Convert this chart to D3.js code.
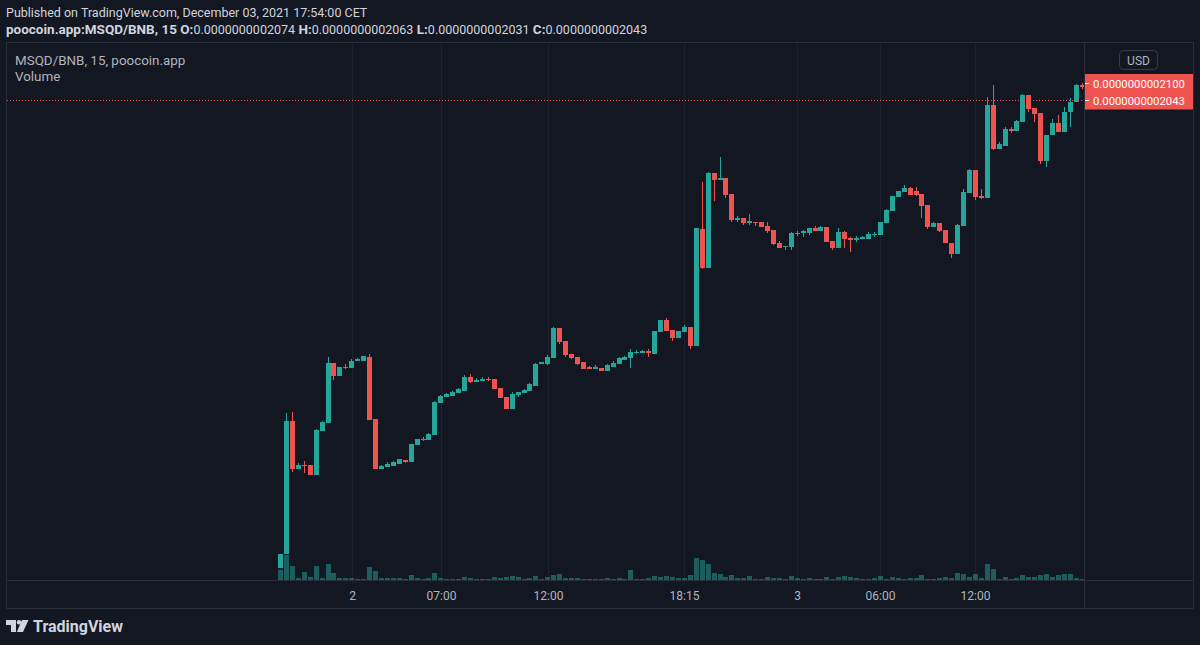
<!DOCTYPE html>
<html lang="en">
<head>
  <meta charset="UTF-8">
  <title>MSQD/BNB 15m candles</title>
  <script src="https://d3js.org/d3.v7.min.js"></script>
  <style>
    html, body { margin: 0; padding: 0; background: #131722; }
    svg { display: block; font-family: Roboto, "Noto Sans", sans-serif; }
    .hdr { fill: #d1d4dc; font-size: 12.5px; }
    .hdr .b { font-weight: bold; font-size: 13.5px; }
    .legend { fill: #b2b5be; font-size: 13.4px; }
    .tick-label { fill: #b2b5be; font-size: 12px; text-anchor: middle; }
    .frame { stroke: #2a2e39; fill: none; shape-rendering: crispEdges; }
    .grid { stroke: #1e222d; shape-rendering: crispEdges; }
  </style>
</head>
<body>
<div id="chart"></div>
<script>
  // 15 minute candles, prices in units of 1e-13 BNB
  const opens = [
    528, 574, 1004, 848, 862, 862, 828, 973, 999, 1193,
    1150, 1177, 1177, 1198, 1200, 1213, 1011, 848, 855, 860,
    865, 879, 872, 927, 943, 943, 959, 1062, 1081, 1085,
    1094, 1100, 1147, 1130, 1134, 1140, 1139, 1111, 1081, 1043,
    1088, 1094, 1100, 1119, 1188, 1189, 1209, 1306, 1263, 1222,
    1213, 1194, 1178, 1174, 1177, 1167, 1180, 1190, 1203, 1209,
    1225, 1226, 1230, 1222, 1293, 1331, 1299, 1273, 1293, 1309,
    1248, 1626, 1501, 1807, 1784, 1790, 1740, 1655, 1662, 1647,
    1650, 1649, 1636, 1623, 1581, 1567, 1569, 1614, 1612, 1614,
    1630, 1620, 1633, 1587, 1566, 1616, 1598, 1592, 1595, 1595,
    1607, 1607, 1646, 1685, 1731, 1746, 1760, 1749, 1740, 1704,
    1634, 1646, 1623, 1582, 1544, 1637, 1742, 1817, 1734, 1727,
    2028, 1886, 1896, 1950, 1944, 1974, 2060, 2018, 2002, 1846,
    1930, 1970, 1941, 2004, 2038, 2092
  ];
  const highs = [
    574, 1031, 1034, 867, 876, 862, 977, 1004, 1213, 1193,
    1180, 1189, 1204, 1207, 1216, 1221, 1011, 863, 871, 876,
    882, 879, 931, 946, 952, 966, 1069, 1089, 1094, 1102,
    1110, 1153, 1156, 1143, 1146, 1146, 1139, 1111, 1081, 1098,
    1098, 1108, 1128, 1193, 1194, 1218, 1310, 1306, 1263, 1222,
    1213, 1194, 1181, 1185, 1177, 1190, 1198, 1212, 1216, 1238,
    1233, 1235, 1237, 1296, 1331, 1338, 1299, 1296, 1315, 1309,
    1630, 1778, 1812, 1807, 1858, 1790, 1740, 1668, 1662, 1675,
    1650, 1649, 1649, 1623, 1588, 1571, 1616, 1619, 1623, 1629,
    1636, 1636, 1633, 1587, 1628, 1620, 1601, 1604, 1605, 1615,
    1616, 1649, 1691, 1733, 1750, 1769, 1763, 1762, 1740, 1704,
    1649, 1646, 1623, 1582, 1643, 1756, 1820, 1817, 1756, 2053,
    2092, 1909, 1955, 1955, 1980, 2064, 2060, 2018, 2002, 1931,
    1981, 1994, 2020, 2049, 2096, 2098
  ];
  const lows = [
    528, 574, 840, 848, 837, 828, 828, 973, 999, 1137,
    1150, 1172, 1177, 1198, 1200, 1008, 848, 848, 855, 860,
    865, 868, 872, 927, 940, 943, 959, 1062, 1081, 1085,
    1094, 1100, 1126, 1130, 1134, 1134, 1107, 1078, 1043, 1043,
    1081, 1094, 1100, 1119, 1188, 1186, 1209, 1254, 1213, 1205,
    1186, 1174, 1172, 1174, 1167, 1167, 1180, 1190, 1203, 1177,
    1221, 1226, 1213, 1222, 1293, 1296, 1263, 1273, 1293, 1239,
    1248, 1496, 1501, 1717, 1784, 1728, 1649, 1650, 1640, 1640,
    1637, 1634, 1612, 1573, 1566, 1558, 1558, 1605, 1601, 1608,
    1620, 1620, 1584, 1558, 1566, 1566, 1553, 1583, 1595, 1595,
    1601, 1607, 1646, 1685, 1731, 1746, 1737, 1733, 1663, 1626,
    1634, 1616, 1580, 1533, 1544, 1637, 1742, 1721, 1723, 1727,
    1882, 1886, 1896, 1937, 1944, 1974, 2005, 1974, 1838, 1827,
    1930, 1941, 1941, 1958, 2038, 2079
  ];
  const closes = [
    574, 1004, 848, 862, 859, 828, 975, 1001, 1193, 1150,
    1180, 1180, 1200, 1204, 1214, 1008, 848, 860, 865, 871,
    880, 873, 931, 946, 946, 962, 1066, 1085, 1091, 1099,
    1107, 1147, 1130, 1137, 1141, 1136, 1107, 1078, 1043, 1092,
    1098, 1105, 1123, 1190, 1194, 1213, 1306, 1260, 1218, 1209,
    1190, 1174, 1174, 1179, 1167, 1185, 1193, 1207, 1213, 1229,
    1229, 1230, 1224, 1296, 1331, 1296, 1273, 1296, 1309, 1248,
    1628, 1501, 1808, 1785, 1790, 1736, 1655, 1663, 1647, 1651,
    1647, 1634, 1621, 1579, 1566, 1571, 1613, 1610, 1619, 1629,
    1620, 1633, 1584, 1566, 1616, 1594, 1592, 1598, 1599, 1609,
    1611, 1649, 1688, 1733, 1748, 1760, 1737, 1735, 1702, 1634,
    1646, 1621, 1580, 1544, 1640, 1746, 1817, 1731, 1727, 2028,
    1885, 1900, 1950, 1943, 1977, 2060, 2016, 2000, 1846, 1931,
    1970, 1941, 2004, 2038, 2092, 2087
  ];
  const volumes = [
    10.5, 25, 13.7, 2, 7.7, 3, 13.7, 2, 15.7, 7,
    2, 2, 2, 1, 1, 12.7, 8.7, 2, 2, 2,
    2, 1, 5, 2, 1, 2, 7, 2, 1, 1,
    1, 3, 2, 1, 1, 1, 3, 2, 3, 4,
    3, 1, 2, 4, 1, 3, 5, 6, 2, 2,
    2, 1, 1, 1, 1, 2, 1, 2, 1, 10,
    1, 1, 2, 4, 3, 4, 3, 2, 2, 5,
    21.7, 19.7, 15.7, 7, 6, 3, 5, 2, 2, 4,
    1, 1, 3, 2, 2, 1, 4, 2, 1, 2,
    1, 1, 3, 1, 3, 4, 3, 2, 1, 1,
    2, 4, 1, 3, 2, 1, 2, 2, 5, 1,
    1, 2, 3, 2, 7, 6, 3, 6, 2, 15.7,
    10.7, 1, 3, 1, 2, 5, 3, 3, 5, 6,
    3, 5, 6, 6, 2, 1
  ];

  // time axis: bar index of each label
  const tickIndex = [12, 27, 45, 68, 87, 101, 117];
  const tickText = ["2", "07:00", "12:00", "18:15", "3", "06:00", "12:00"];

  // price axis labels
  const priceLabels = [2100, 2043];
  const lastPrice = 2043;

  const publishedText = "Published on TradingView.com, December 03, 2021 17:54:00 CET";
  const symbolText = "poocoin.app:MSQD/BNB, 15";
  const ohlcNames = ["O", "H", "L", "C"];
  const ohlcValues = ["0.0000000002074", "0.0000000002063", "0.0000000002031", "0.0000000002043"];
  const legendLines = ["MSQD/BNB, 15, poocoin.app", "Volume"];

  const W = 1200, H = 645;
  const pane = { left: 7, top: 43, right: 1084, bottom: 580 };
  const frame = { left: 6.5, top: 42.5, right: 1193.5, bottom: 608.5 };
  const upColor = "#26a69a", downColor = "#ef5350";
  const fmt = v => "0.000000000" + d3.format("04d")(v);

  const svg = d3.select("#chart").append("svg")
      .attr("width", W).attr("height", H);

  svg.append("rect").attr("width", W).attr("height", H).attr("fill", "#131722");

  // header
  svg.append("text").attr("class", "hdr").attr("x", 6).attr("y", 16.5).text(publishedText);
  const line2 = svg.append("text").attr("class", "hdr").attr("x", 6).attr("y", 33.5);
  line2.append("tspan").attr("class", "b").text(symbolText);
  ohlcNames.forEach((n, i) => {
    line2.append("tspan").attr("class", "b").text(" " + n + ":");
    line2.append("tspan").text(ohlcValues[i]);
  });

  // scales
  const n = opens.length;
  const x = d3.scaleLinear().domain([0, n - 1]).range([280.5, 1082.3]);
  const y = d3.scaleLinear().domain([2043, 2100]).range([100.3, 82.7]);
  const yVol = d3.scaleLinear().domain([0, 25]).range([pane.bottom, pane.bottom - 25]);

  const bars = d3.range(n).map(i => ({
    i, o: opens[i], h: highs[i], l: lows[i], c: closes[i], v: volumes[i],
    up: closes[i] >= opens[i]
  }));

  // grid + ticks
  const grid = svg.append("g");
  tickIndex.forEach((ti, k) => {
    const gx = Math.round(x(ti)) + 0.5;
    grid.append("line").attr("class", "grid")
      .attr("x1", gx).attr("x2", gx).attr("y1", pane.top).attr("y2", pane.bottom + 4);
    svg.append("text").attr("class", "tick-label")
      .attr("x", gx).attr("y", 599.5).text(tickText[k]);
  });

  svg.append("clipPath").attr("id", "clip").append("rect")
    .attr("x", pane.left).attr("y", pane.top)
    .attr("width", pane.right - pane.left).attr("height", pane.bottom - pane.top);

  const plot = svg.append("g").attr("clip-path", "url(#clip)");

  // volume
  plot.selectAll(".vol").data(bars).enter().append("rect")
    .attr("class", "vol")
    .attr("x", d => Math.round(x(d.i) - 2.5))
    .attr("width", 5)
    .attr("y", d => Math.round(yVol(d.v)))
    .attr("height", d => pane.bottom - Math.round(yVol(d.v)))
    .attr("fill", "rgba(38,166,154,0.5)");

  // wicks
  plot.selectAll(".wick").data(bars).enter().append("rect")
    .attr("class", "wick")
    .attr("x", d => Math.round(x(d.i) - 2.5) + 2)
    .attr("width", 1)
    .attr("y", d => Math.round(y(d.h)))
    .attr("height", d => Math.max(1, Math.round(y(d.l)) - Math.round(y(d.h))))
    .attr("fill", d => d.up ? upColor : downColor);

  // bodies
  plot.selectAll(".body").data(bars).enter().append("rect")
    .attr("class", "body")
    .attr("x", d => Math.round(x(d.i) - 2.5))
    .attr("width", 5)
    .attr("y", d => Math.round(y(Math.max(d.o, d.c))))
    .attr("height", d => Math.max(1, Math.round(y(Math.min(d.o, d.c))) - Math.round(y(Math.max(d.o, d.c)))))
    .attr("fill", d => d.up ? upColor : downColor);

  // last price line
  plot.append("line")
    .attr("x1", pane.left).attr("x2", pane.right)
    .attr("y1", Math.round(y(lastPrice)) + 0.5).attr("y2", Math.round(y(lastPrice)) + 0.5)
    .attr("stroke", downColor).attr("stroke-dasharray", "1,2");

  // frame
  svg.append("rect").attr("class", "frame")
    .attr("x", frame.left).attr("y", frame.top)
    .attr("width", frame.right - frame.left).attr("height", frame.bottom - frame.top);
  svg.append("line").attr("class", "frame")
    .attr("x1", pane.right + 0.5).attr("x2", pane.right + 0.5)
    .attr("y1", frame.top).attr("y2", frame.bottom);
  svg.append("line").attr("class", "frame")
    .attr("x1", frame.left).attr("x2", frame.right)
    .attr("y1", pane.bottom + 0.5).attr("y2", pane.bottom + 0.5);

  // legend
  legendLines.forEach((t, i) => {
    svg.append("text").attr("class", "legend")
      .attr("x", 15).attr("y", 64.5 + i * 16.5).text(t);
  });

  // USD button
  svg.append("rect")
    .attr("x", 1119.5).attr("y", 50.5).attr("width", 38).attr("height", 19).attr("rx", 4)
    .attr("fill", "#131722").attr("stroke", "#363a45");
  svg.append("text").attr("x", 1138.5).attr("y", 64.5)
    .attr("text-anchor", "middle").attr("fill", "#b2b5be").attr("font-size", 12).text("USD");

  // price labels (stacked)
  priceLabels.forEach(p => {
    const py = Math.round(y(p));
    svg.append("rect")
      .attr("x", pane.right + 1).attr("y", py - 9)
      .attr("width", frame.right - pane.right - 1.5).attr("height", 18.5)
      .attr("fill", downColor);
    svg.append("rect")
      .attr("x", pane.right + 1).attr("y", py).attr("width", 4).attr("height", 1)
      .attr("fill", "#ffffff");
    svg.append("text")
      .attr("x", 1093).attr("y", py + 4.5)
      .attr("fill", "#ffffff").attr("font-size", 11.3)
      .text(fmt(p));
  });

  // TradingView logo
  const logo = svg.append("g").attr("fill", "#d1d4dc");
  logo.append("path").attr("d", "M6,620 H16 V632 H11 V625 H6 Z");
  logo.append("circle").attr("cx", 19).attr("cy", 622.2).attr("r", 2.2);
  logo.append("path").attr("d", "M22,620 H28.5 L23,632 H16.8 Z");
  svg.append("text").attr("x", 33).attr("y", 632)
    .attr("fill", "#d1d4dc").attr("font-size", 16).attr("font-weight", "bold")
    .text("TradingView");
</script>
</body>
</html>
